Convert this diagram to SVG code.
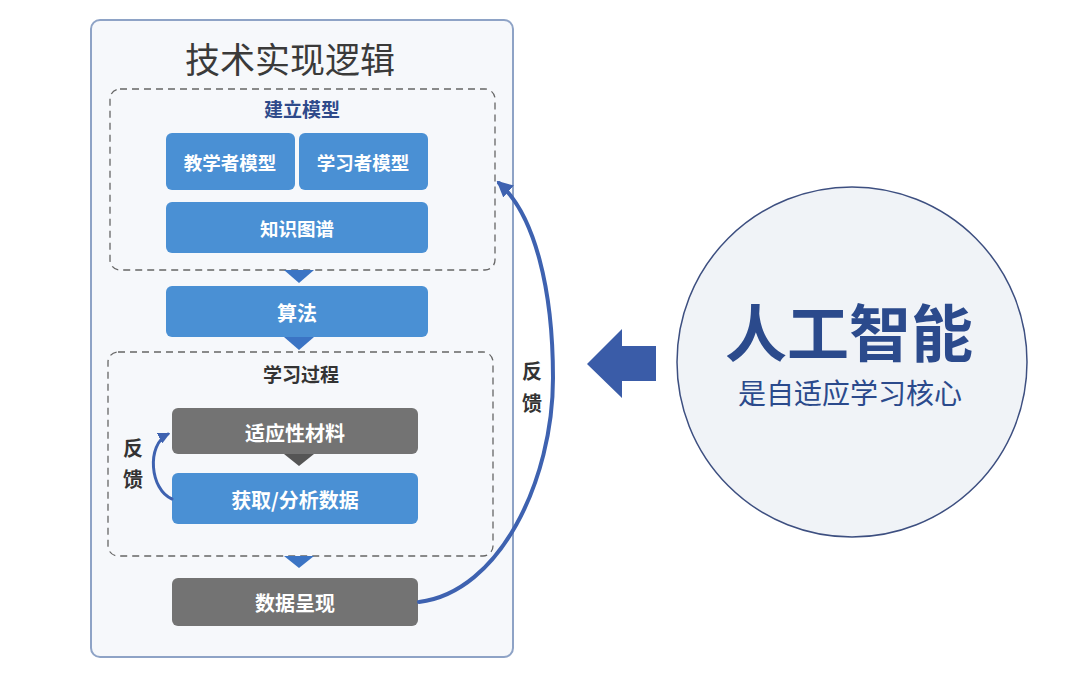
<svg xmlns="http://www.w3.org/2000/svg" width="1080" height="673" viewBox="0 0 1080 673">
<style>
text{font-family:"Noto Sans CJK SC","Noto Sans",sans-serif;text-anchor:middle;dominant-baseline:central}
.blue{fill:#4a90d4}
.gray{fill:#737373}
.bt{fill:#ffffff;font-size:18.5px;font-weight:bold}
.bt2{fill:#ffffff;font-size:20px;font-weight:bold}
.dash{fill:none;stroke:#666;stroke-width:1.3;stroke-dasharray:7 5}
.tri{fill:#3b74c4}
.fb{fill:#333;font-size:20px;font-weight:bold}
.conn{fill:none;stroke:#3e62b0;stroke-linecap:round}
</style>
<defs>
<marker id="ah" viewBox="0 0 10 10" refX="8" refY="5" markerWidth="4" markerHeight="4" orient="auto" markerUnits="strokeWidth">
<path d="M0,0 L10,5 L0,10 z" fill="#3e62b0"/>
</marker>
</defs>
<rect width="1080" height="673" fill="#ffffff"/>
<g id="panel">
<rect x="91" y="20" width="422" height="637" rx="9" fill="#f6f8fb" stroke="#8ea3c6" stroke-width="2"/>
<text x="290" y="57" style="font-size:35px;fill:#3a3a3a">技术实现逻辑</text>
</g>
<g id="group-model">
<rect class="dash" x="110" y="89" width="385" height="181" rx="10"/>
<text x="302" y="108" style="font-size:19px;fill:#2e4a8a;font-weight:bold">建立模型</text>
</g>
<g id="teacher-model">
<rect class="blue" x="166" y="133" width="129" height="57" rx="6"/>
<text class="bt" x="230" y="162">教学者模型</text>
</g>
<g id="learner-model">
<rect class="blue" x="299" y="133" width="129" height="57" rx="6"/>
<text class="bt" x="363" y="162">学习者模型</text>
</g>
<g id="knowledge-graph">
<rect class="blue" x="166" y="202" width="262" height="51" rx="6"/>
<text class="bt" x="297" y="228">知识图谱</text>
</g>
<g id="algorithm">
<rect class="blue" x="166" y="286" width="262" height="51" rx="6"/>
<text class="bt2" x="297" y="312">算法</text>
</g>
<g id="group-process">
<rect class="dash" x="108" y="352" width="385" height="204" rx="10"/>
<text x="301" y="373" style="font-size:19px;fill:#333;font-weight:bold">学习过程</text>
</g>
<g id="adaptive-material">
<rect class="gray" x="172" y="408" width="246" height="46" rx="6"/>
<text class="bt2" x="295" y="432">适应性材料</text>
</g>
<g id="collect-data">
<rect class="blue" x="172" y="473" width="246" height="51" rx="6"/>
<text class="bt2" x="295" y="499">获取/分析数据</text>
</g>
<g id="data-present">
<rect class="gray" x="172" y="578" width="246" height="48" rx="6"/>
<text class="bt2" x="295" y="602">数据呈现</text>
</g>
<g id="ai-core">
<circle cx="852" cy="362" r="175" fill="#f0f3f7" stroke="#3d4f80" stroke-width="1.5"/>
<text x="849" y="330" style="font-size:62px;font-weight:bold;fill:#2b4a8c">人工智能</text>
<text x="850" y="392" style="font-size:28px;fill:#2b4a8c">是自适应学习核心</text>
</g>
<g id="connectors">
<polygon class="tri" points="284,270 314,270 299,283"/>
<polygon class="tri" points="284,337 314,337 299,350"/>
<polygon points="284,454 314,454 299,466" fill="#555"/>
<polygon class="tri" points="284,556 314,556 299,568"/>
<path class="conn" stroke-width="3" d="M172,499 C150,490 146,445 168,434" marker-end="url(#ah)"/>
<text class="fb" x="133" y="447">反</text>
<text class="fb" x="133" y="478">馈</text>
<path class="conn" stroke-width="4" d="M419,602 C500,592 553,480 553,378 C553,290 535,215 499,183" marker-end="url(#ah)"/>
<text class="fb" x="532" y="370">反</text>
<text class="fb" x="532" y="402">馈</text>
<polygon points="587,364 622,329 622,346 656,346 656,381 622,381 622,398" fill="#3a5ca8"/>
</g>
</svg>
